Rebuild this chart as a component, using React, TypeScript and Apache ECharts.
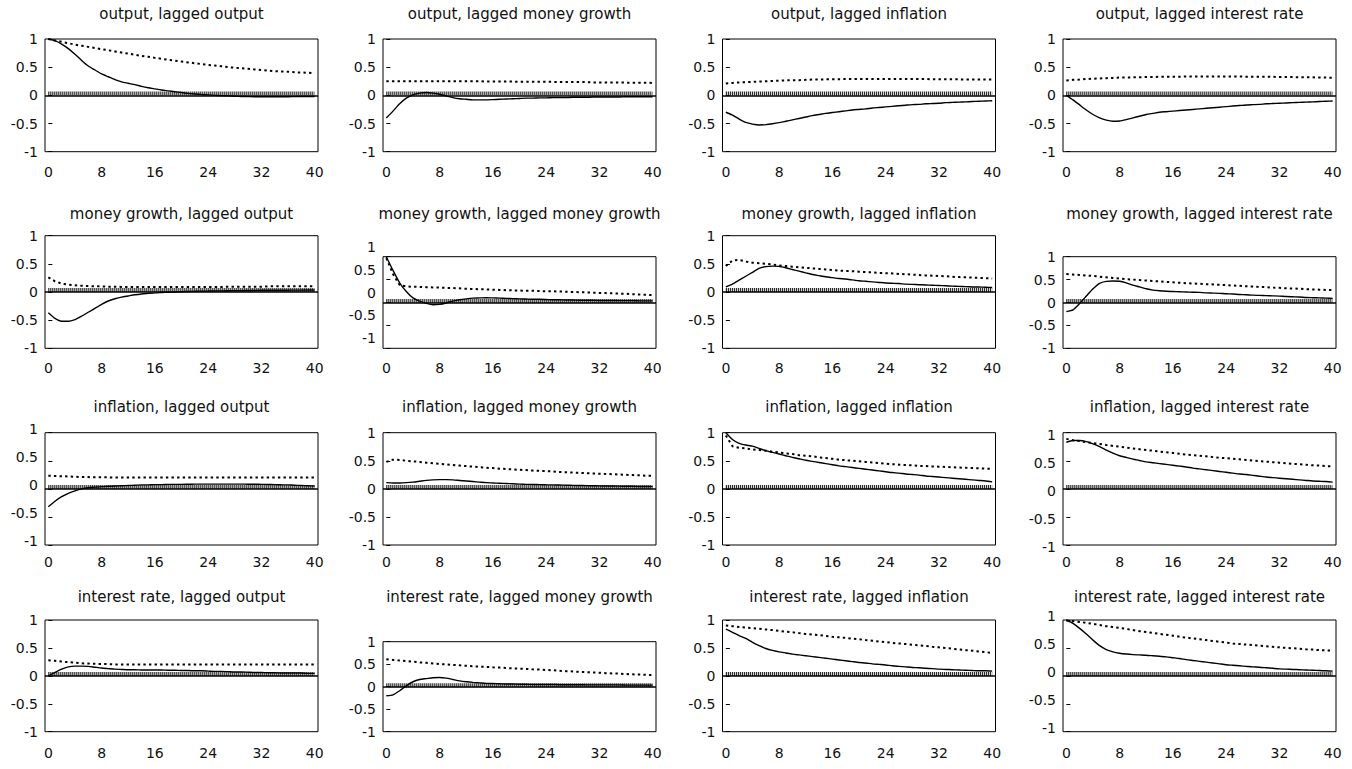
import React, { useEffect, useRef } from "react";
import * as echarts from "echarts";

// ---------- data ----------
const lags = [0,1,2,3,4,5,6,7,8,9,10,11,12,13,14,15,16,17,18,19,20,21,22,23,24,25,26,27,28,29,30,31,32,33,34,35,36,37,38,39,40];
const xTicks = [0, 8, 16, 24, 32, 40];
const hatchLevel = 0.035;

const titles = [
  "output, lagged output", "output, lagged money growth", "output, lagged inflation", "output, lagged interest rate",
  "money growth, lagged output", "money growth, lagged money growth", "money growth, lagged inflation", "money growth, lagged interest rate",
  "inflation, lagged output", "inflation, lagged money growth", "inflation, lagged inflation", "inflation, lagged interest rate",
  "interest rate, lagged output", "interest rate, lagged money growth", "interest rate, lagged inflation", "interest rate, lagged interest rate",
];

// solid = response, dotted = comparison curve
const outOut = [1.0,0.97,0.91,0.83,0.73,0.62,0.52,0.45,0.38,0.33,0.28,0.24,0.215,0.19,0.16,0.135,0.115,0.095,0.08,0.065,0.05,0.035,0.025,0.015,0.008,0.0,-0.005,-0.01,-0.015,-0.02,-0.022,-0.025,-0.025,-0.025,-0.025,-0.025,-0.025,-0.022,-0.02,-0.02,-0.02];
const outOutDot = [1.0,0.975,0.95,0.925,0.9,0.88,0.86,0.84,0.82,0.8,0.78,0.76,0.74,0.72,0.7,0.685,0.665,0.65,0.63,0.615,0.6,0.585,0.57,0.555,0.54,0.53,0.515,0.5,0.49,0.48,0.47,0.46,0.45,0.44,0.43,0.425,0.42,0.41,0.405,0.4,0.395];

const outMoney = [-0.4,-0.28,-0.15,-0.05,0.01,0.04,0.05,0.04,0.02,-0.01,-0.04,-0.06,-0.07,-0.08,-0.08,-0.08,-0.075,-0.07,-0.065,-0.06,-0.055,-0.05,-0.05,-0.045,-0.045,-0.04,-0.04,-0.04,-0.035,-0.035,-0.035,-0.03,-0.03,-0.03,-0.03,-0.03,-0.025,-0.025,-0.025,-0.025,-0.025];
const outMoneyDot = [0.25,0.25,0.25,0.25,0.25,0.25,0.25,0.25,0.25,0.25,0.25,0.25,0.25,0.25,0.25,0.245,0.245,0.245,0.245,0.245,0.24,0.24,0.24,0.24,0.24,0.24,0.235,0.235,0.235,0.235,0.235,0.23,0.23,0.23,0.23,0.23,0.225,0.225,0.225,0.225,0.22];

const outInfl = [-0.3,-0.35,-0.42,-0.48,-0.51,-0.525,-0.52,-0.505,-0.485,-0.46,-0.435,-0.41,-0.385,-0.36,-0.34,-0.32,-0.305,-0.29,-0.275,-0.26,-0.25,-0.24,-0.225,-0.215,-0.205,-0.195,-0.185,-0.175,-0.165,-0.16,-0.15,-0.145,-0.14,-0.13,-0.125,-0.12,-0.115,-0.11,-0.105,-0.1,-0.095];
const outInflDot = [0.21,0.22,0.23,0.235,0.24,0.245,0.25,0.255,0.26,0.265,0.27,0.27,0.275,0.28,0.28,0.285,0.285,0.285,0.29,0.29,0.29,0.29,0.29,0.29,0.29,0.29,0.29,0.29,0.29,0.29,0.29,0.285,0.285,0.285,0.285,0.285,0.28,0.28,0.28,0.28,0.28];

const outRate = [0.0,-0.08,-0.17,-0.26,-0.34,-0.4,-0.44,-0.46,-0.455,-0.43,-0.4,-0.37,-0.34,-0.32,-0.3,-0.29,-0.28,-0.27,-0.26,-0.25,-0.24,-0.23,-0.22,-0.21,-0.2,-0.19,-0.18,-0.17,-0.165,-0.16,-0.15,-0.145,-0.14,-0.135,-0.13,-0.125,-0.12,-0.115,-0.11,-0.105,-0.1];
const outRateDot = [0.265,0.275,0.28,0.29,0.295,0.3,0.305,0.31,0.315,0.315,0.32,0.32,0.325,0.325,0.33,0.33,0.33,0.33,0.335,0.335,0.335,0.335,0.335,0.335,0.335,0.335,0.335,0.33,0.33,0.33,0.33,0.33,0.325,0.325,0.325,0.32,0.32,0.32,0.315,0.315,0.31];

const moneyOut = [-0.37,-0.47,-0.52,-0.52,-0.49,-0.43,-0.36,-0.29,-0.22,-0.16,-0.12,-0.09,-0.07,-0.05,-0.035,-0.025,-0.015,-0.01,-0.005,0.0,0.005,0.01,0.012,0.015,0.017,0.02,0.02,0.022,0.025,0.025,0.027,0.028,0.03,0.03,0.03,0.032,0.032,0.033,0.034,0.035,0.035];
const moneyOutDot = [0.26,0.19,0.15,0.13,0.12,0.11,0.105,0.1,0.1,0.095,0.095,0.09,0.09,0.09,0.09,0.09,0.09,0.09,0.09,0.09,0.09,0.09,0.09,0.09,0.09,0.09,0.09,0.095,0.095,0.095,0.095,0.095,0.095,0.1,0.1,0.1,0.1,0.1,0.1,0.1,0.1];

const moneyMoney = [1.0,0.7,0.43,0.24,0.1,0.03,-0.02,-0.05,-0.04,-0.01,0.03,0.06,0.08,0.095,0.1,0.105,0.1,0.095,0.09,0.085,0.08,0.075,0.07,0.07,0.065,0.06,0.06,0.055,0.055,0.05,0.05,0.05,0.045,0.045,0.045,0.04,0.04,0.04,0.035,0.035,0.035];
const moneyMoneyDot = [0.97,0.62,0.38,0.35,0.345,0.34,0.335,0.33,0.325,0.32,0.315,0.31,0.3,0.295,0.29,0.285,0.28,0.275,0.27,0.265,0.26,0.255,0.255,0.25,0.245,0.245,0.24,0.235,0.23,0.225,0.22,0.215,0.21,0.205,0.2,0.195,0.19,0.18,0.175,0.17,0.16];

const moneyInfl = [0.09,0.14,0.21,0.28,0.35,0.42,0.45,0.46,0.455,0.43,0.4,0.37,0.34,0.31,0.29,0.27,0.255,0.24,0.23,0.215,0.2,0.19,0.18,0.17,0.16,0.155,0.15,0.14,0.135,0.13,0.125,0.12,0.115,0.11,0.105,0.1,0.095,0.09,0.088,0.085,0.08];
const moneyInflDot = [0.46,0.56,0.57,0.54,0.52,0.51,0.5,0.49,0.47,0.46,0.45,0.44,0.43,0.42,0.41,0.4,0.39,0.38,0.375,0.37,0.36,0.355,0.35,0.34,0.335,0.33,0.32,0.315,0.31,0.3,0.295,0.29,0.285,0.28,0.27,0.265,0.26,0.255,0.25,0.245,0.24];

const moneyRate = [-0.2,-0.16,-0.02,0.14,0.3,0.42,0.46,0.47,0.465,0.43,0.38,0.34,0.3,0.27,0.255,0.245,0.24,0.235,0.23,0.225,0.22,0.21,0.205,0.2,0.19,0.185,0.175,0.17,0.16,0.155,0.15,0.145,0.14,0.13,0.125,0.12,0.11,0.105,0.1,0.095,0.09];
const moneyRateDot = [0.62,0.61,0.6,0.59,0.58,0.565,0.55,0.535,0.52,0.51,0.5,0.49,0.48,0.47,0.46,0.45,0.44,0.43,0.42,0.415,0.41,0.4,0.395,0.385,0.38,0.37,0.365,0.355,0.35,0.34,0.335,0.325,0.32,0.31,0.305,0.3,0.29,0.285,0.28,0.275,0.27];

const inflOut = [-0.32,-0.22,-0.14,-0.08,-0.035,0.0,0.02,0.03,0.04,0.045,0.05,0.055,0.06,0.065,0.07,0.07,0.075,0.075,0.08,0.08,0.08,0.082,0.084,0.085,0.085,0.085,0.085,0.085,0.085,0.084,0.083,0.082,0.08,0.078,0.075,0.072,0.07,0.065,0.06,0.055,0.05];
const inflOutDot = [0.235,0.23,0.225,0.22,0.215,0.21,0.21,0.205,0.205,0.205,0.2,0.2,0.2,0.2,0.2,0.2,0.2,0.2,0.2,0.2,0.2,0.2,0.2,0.2,0.2,0.2,0.2,0.2,0.2,0.2,0.2,0.2,0.2,0.2,0.2,0.2,0.2,0.2,0.2,0.2,0.2];

const inflMoney = [0.11,0.105,0.105,0.11,0.12,0.135,0.15,0.16,0.165,0.165,0.16,0.15,0.14,0.13,0.12,0.11,0.105,0.1,0.095,0.09,0.085,0.08,0.078,0.075,0.072,0.07,0.068,0.065,0.062,0.06,0.058,0.055,0.053,0.05,0.05,0.048,0.046,0.045,0.043,0.042,0.04];
const inflMoneyDot = [0.48,0.52,0.515,0.5,0.49,0.48,0.465,0.455,0.445,0.435,0.425,0.415,0.405,0.395,0.385,0.375,0.37,0.36,0.355,0.345,0.34,0.335,0.325,0.32,0.315,0.31,0.3,0.295,0.29,0.285,0.28,0.275,0.27,0.265,0.26,0.255,0.25,0.245,0.24,0.235,0.23];

const inflInfl = [1.0,0.88,0.81,0.78,0.76,0.72,0.68,0.65,0.62,0.59,0.56,0.535,0.51,0.49,0.47,0.45,0.43,0.41,0.395,0.38,0.365,0.35,0.335,0.32,0.305,0.29,0.28,0.265,0.255,0.245,0.23,0.22,0.21,0.2,0.19,0.18,0.17,0.16,0.15,0.14,0.125];
const inflInflDot = [0.95,0.76,0.73,0.72,0.7,0.69,0.68,0.66,0.65,0.63,0.62,0.6,0.59,0.58,0.56,0.55,0.535,0.52,0.51,0.5,0.49,0.48,0.47,0.46,0.45,0.44,0.43,0.425,0.42,0.41,0.405,0.4,0.395,0.39,0.385,0.38,0.375,0.37,0.365,0.36,0.355];

const inflRate = [0.83,0.86,0.86,0.84,0.8,0.75,0.69,0.635,0.59,0.56,0.53,0.505,0.48,0.465,0.45,0.435,0.42,0.405,0.39,0.37,0.355,0.34,0.325,0.31,0.295,0.28,0.265,0.255,0.24,0.225,0.21,0.2,0.19,0.18,0.17,0.16,0.15,0.14,0.135,0.13,0.12];
const inflRateDot = [0.89,0.865,0.85,0.83,0.815,0.8,0.78,0.765,0.75,0.735,0.72,0.705,0.69,0.68,0.665,0.65,0.64,0.625,0.61,0.6,0.59,0.58,0.565,0.555,0.545,0.535,0.525,0.515,0.505,0.495,0.485,0.475,0.465,0.455,0.445,0.44,0.43,0.42,0.415,0.405,0.4];

const rateOut = [0.0,0.06,0.12,0.16,0.175,0.175,0.17,0.155,0.14,0.13,0.12,0.115,0.11,0.11,0.105,0.105,0.105,0.105,0.1,0.1,0.095,0.095,0.09,0.09,0.085,0.08,0.08,0.075,0.07,0.07,0.065,0.06,0.06,0.055,0.055,0.05,0.05,0.05,0.05,0.045,0.045];
const rateOutDot = [0.28,0.27,0.255,0.245,0.235,0.225,0.22,0.215,0.21,0.21,0.205,0.205,0.205,0.205,0.205,0.205,0.205,0.205,0.205,0.205,0.205,0.205,0.205,0.205,0.205,0.205,0.205,0.205,0.205,0.205,0.205,0.205,0.205,0.205,0.205,0.205,0.205,0.205,0.205,0.205,0.205];

const rateMoney = [-0.2,-0.18,-0.09,0.02,0.11,0.16,0.18,0.2,0.205,0.19,0.16,0.13,0.11,0.095,0.085,0.075,0.07,0.065,0.06,0.06,0.055,0.055,0.05,0.05,0.05,0.05,0.045,0.045,0.045,0.045,0.04,0.04,0.04,0.04,0.04,0.04,0.035,0.035,0.035,0.035,0.035];
const rateMoneyDot = [0.61,0.595,0.58,0.57,0.555,0.54,0.53,0.515,0.505,0.495,0.485,0.475,0.465,0.455,0.445,0.44,0.43,0.425,0.415,0.41,0.4,0.395,0.385,0.38,0.37,0.365,0.355,0.345,0.34,0.33,0.325,0.315,0.31,0.3,0.295,0.29,0.28,0.275,0.27,0.265,0.26];

const rateInfl = [0.835,0.78,0.72,0.67,0.6,0.54,0.49,0.455,0.43,0.41,0.39,0.375,0.36,0.345,0.33,0.315,0.3,0.285,0.27,0.255,0.24,0.23,0.215,0.205,0.195,0.18,0.17,0.16,0.15,0.145,0.135,0.13,0.12,0.115,0.11,0.105,0.1,0.095,0.09,0.09,0.085];
const rateInflDot = [0.9,0.89,0.875,0.865,0.855,0.845,0.83,0.82,0.805,0.79,0.78,0.765,0.75,0.74,0.73,0.715,0.7,0.69,0.68,0.665,0.655,0.64,0.63,0.615,0.605,0.59,0.58,0.57,0.555,0.545,0.535,0.52,0.51,0.5,0.485,0.475,0.46,0.45,0.435,0.425,0.41];

const rateRate = [1.0,0.94,0.85,0.75,0.64,0.54,0.47,0.43,0.405,0.39,0.38,0.375,0.37,0.36,0.35,0.34,0.325,0.31,0.29,0.275,0.26,0.245,0.23,0.215,0.2,0.19,0.18,0.17,0.16,0.155,0.145,0.135,0.125,0.12,0.115,0.11,0.105,0.1,0.095,0.09,0.085];
const rateRateDot = [0.99,0.98,0.965,0.95,0.93,0.91,0.89,0.875,0.86,0.84,0.82,0.8,0.785,0.77,0.75,0.735,0.72,0.7,0.685,0.67,0.655,0.64,0.625,0.61,0.595,0.58,0.57,0.56,0.55,0.54,0.53,0.52,0.51,0.5,0.495,0.485,0.475,0.47,0.46,0.455,0.45];

const solidSeries = [outOut, outMoney, outInfl, outRate, moneyOut, moneyMoney, moneyInfl, moneyRate, inflOut, inflMoney, inflInfl, inflRate, rateOut, rateMoney, rateInfl, rateRate];
const dottedSeries = [outOutDot, outMoneyDot, outInflDot, outRateDot, moneyOutDot, moneyMoneyDot, moneyInflDot, moneyRateDot, inflOutDot, inflMoneyDot, inflInflDot, inflRateDot, rateOutDot, rateMoneyDot, rateInflDot, rateRateDot];

// ---------- layout ----------
const colLeft = [45, 383, 722.5, 1063];
const boxWidth = 273;
const rowTop = [39, 235.7, 432.7, 620];
const rowBottom = [151.7, 348.3, 545, 731.7];
const shrunkTop: Record<number, number> = { 5: 256.7, 7: 256.7, 13: 641.7 };
const labelShift: Record<number, number> = { 5: -10, 8: -4, 15: -4, 11: 2 };
const titleY = [15, 215, 408, 598];
const xLabelMargin = [13, 12.5, 9.5, 14.5];
const FONT = "DejaVu Sans";
const INK = "#111";

function yLabelStyle(shift: number) {
  if (shift < 0) return { verticalAlign: "bottom", lineHeight: -2 * shift };
  if (shift > 0) return { verticalAlign: "top", lineHeight: 2 * shift };
  return {};
}

function buildOption() {
  const grid: any[] = [];
  const xAxis: any[] = [];
  const yAxis: any[] = [];
  const series: any[] = [];
  const title: any[] = [];
  for (let i = 0; i < 16; i++) {
    const r = Math.floor(i / 4);
    const c = i % 4;
    const top = shrunkTop[i] ?? rowTop[r];
    const height = rowBottom[r] - top;
    grid.push({
      left: colLeft[c], top, width: boxWidth, height,
      show: true, borderColor: "#000", borderWidth: 1, backgroundColor: "transparent",
    });
    title.push({
      text: titles[i], left: colLeft[c] + boxWidth / 2, top: titleY[r] - 9, textAlign: "center", padding: 0,
      textStyle: { fontFamily: FONT, fontSize: 15, fontWeight: "normal", color: INK },
    });
    xAxis.push({
      gridIndex: i, type: "value", min: -0.5, max: 40.5,
      axisLine: { show: false }, axisTick: { show: false }, splitLine: { show: false },
      axisLabel: { customValues: xTicks, margin: xLabelMargin[r], fontFamily: FONT, fontSize: 14, color: INK },
    });
    yAxis.push({
      gridIndex: i, type: "value", min: -1, max: 1, interval: 0.5,
      axisLine: { show: false }, splitLine: { show: false },
      axisTick: { show: true, inside: true, length: 4, lineStyle: { color: "#000", width: 1 } },
      axisLabel: { margin: 7, fontFamily: FONT, fontSize: 14, color: INK, ...yLabelStyle(labelShift[i] ?? 0) },
    });
    series.push({
      type: "line", xAxisIndex: i, yAxisIndex: i, symbol: "none", silent: true,
      data: [[lags[0], hatchLevel], [lags[lags.length - 1], hatchLevel]],
      lineStyle: { color: "#000", width: 4, type: [1, 1], cap: "butt" },
      markLine: {
        silent: true, symbol: "none", label: { show: false },
        lineStyle: { color: "#000", width: 1.5, type: "solid" },
        data: [{ yAxis: 0 }],
      },
    });
    series.push({
      type: "line", xAxisIndex: i, yAxisIndex: i, symbol: "none", silent: true,
      data: lags.map((l, k) => [l, dottedSeries[i][k]]),
      lineStyle: { color: "#000", width: 2, type: [2.4, 3.2], cap: "butt" },
    });
    series.push({
      type: "line", xAxisIndex: i, yAxisIndex: i, symbol: "none", silent: true, smooth: 0.2,
      data: lags.map((l, k) => [l, solidSeries[i][k]]),
      lineStyle: { color: "#000", width: 1.4 },
    });
  }
  return { animation: false, backgroundColor: "#fff", title, grid, xAxis, yAxis, series };
}

export default function App() {
  const ref = useRef<HTMLDivElement>(null);
  useEffect(() => {
    document.body.style.margin = "0";
    if (!ref.current) return;
    const chart = echarts.init(ref.current, undefined, { renderer: "svg" });
    chart.setOption(buildOption() as any);
    return () => chart.dispose();
  }, []);
  return <div ref={ref} style={{ width: 1352, height: 769 }} />;
}
